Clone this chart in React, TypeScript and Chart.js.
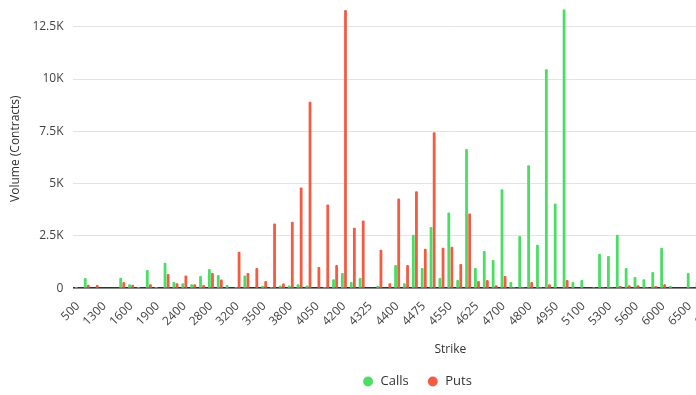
import React, { useEffect, useRef } from "react";
import { Chart, registerables } from "chart.js";

Chart.register(...registerables);

const strikes: string[] = [
  "500", "800", "1000", "1300", "1400", "1500", "1600", "1700", "1800", "1900",
  "2000", "2200", "2400", "2500", "2600", "2800", "2900", "3000", "3200", "3300",
  "3400", "3500", "3600", "3700", "3800", "3900", "4000", "4050", "4100", "4150",
  "4200", "4250", "4300", "4325", "4350", "4375", "4400", "4425", "4450", "4475",
  "4500", "4525", "4550", "4575", "4600", "4625", "4650", "4675", "4700", "4725",
  "4750", "4800", "4850", "4900", "4950", "5000", "5050", "5100", "5150", "5200",
  "5300", "5400", "5500", "5600", "5700", "5800", "6000", "6100", "6200", "6500",
  "6600", "6700", "6800", "7000", "7200", "7400", "7500", "7600", "7800", "8000",
  "8500", "9000", "9500", "10000", "11000",
];

const calls: number[] = [
  50, 480, 0, 0, 0, 500, 190, 50, 870, 50,
  1210, 290, 240, 190, 580, 920, 630, 150, 50, 600,
  0, 110, 50, 130, 130, 190, 130, 0, 50, 430,
  720, 290, 480, 0, 100, 0, 1110, 240, 2560, 960,
  2930, 480, 3620, 390, 6660, 960, 1780, 1350, 4730, 290,
  2490, 5880, 2070, 10470, 4050, 13340, 290, 390, 0, 1640,
  1540, 2560, 960, 530, 430, 770, 1930, 100, 0, 720,
  300, 150, 80, 200, 60, 40, 120, 30, 20, 90,
  50, 30, 20, 40, 10,
];

const puts: number[] = [
  0, 160, 150, 0, 0, 290, 160, 0, 190, 0,
  680, 240, 600, 190, 150, 730, 420, 0, 1740, 730,
  970, 340, 3090, 220, 3170, 4810, 8920, 1010, 4000, 1110,
  13300, 2890, 3230, 0, 1840, 240, 4290, 1110, 4630, 1880,
  7460, 1930, 1980, 1160, 3570, 340, 390, 140, 580, 50,
  50, 290, 50, 190, 0, 390, 0, 0, 50, 40,
  40, 100, 140, 140, 40, 100, 190, 0, 0, 30,
  20, 0, 10, 0, 0, 10, 0, 0, 0, 0,
  0, 0, 0, 0, 0,
];

const yTickValues: number[] = [0, 2500, 5000, 7500, 10000, 12500];
const yTickLabels: string[] = ["0", "2.5K", "5K", "7.5K", "10K", "12.5K"];
const yMax = 13340;

const GREEN = "#4ade63";
const RED = "#f55a42";
const FONT = "'Open Sans', sans-serif";

export default function App() {
  const ref = useRef<HTMLCanvasElement | null>(null);

  useEffect(() => {
    document.body.style.margin = "0";
    const ctx = ref.current;
    if (!ctx) return;
    const chart = new Chart(ctx, {
      type: "bar",
      data: {
        labels: strikes,
        datasets: [
          {
            label: "Calls",
            data: calls,
            backgroundColor: GREEN,
            borderColor: GREEN,
            categoryPercentage: 0.7,
            barPercentage: 0.9,
            borderRadius: 1,
          },
          {
            label: "Puts",
            data: puts,
            backgroundColor: RED,
            borderColor: RED,
            categoryPercentage: 0.7,
            barPercentage: 0.9,
            borderRadius: 1,
          },
        ],
      },
      options: {
        responsive: false,
        devicePixelRatio: 1,
        animation: false,
        layout: { padding: { left: 4, top: 0, right: 6, bottom: -3 } },
        plugins: {
          tooltip: { enabled: false },
          legend: {
            position: "bottom",
            labels: {
              usePointStyle: true,
              pointStyle: "circle",
              boxWidth: 12,
              boxHeight: 7,
              padding: 18,
              color: "#333",
              font: { family: FONT, size: 13 },
            },
          },
        },
        scales: {
          x: {
            grid: { display: false },
            border: { display: true, color: "#333", width: 1.5 },
            ticks: {
              autoSkip: false,
              maxRotation: 45,
              minRotation: 45,
              color: "#444",
              font: { family: FONT, size: 12 },
              callback: (_v: any, i: number) => (i % 3 === 0 ? strikes[i] : ""),
            },
            title: {
              display: true,
              text: "Strike",
              color: "#333",
              font: { family: FONT, size: 12 },
              padding: { top: 6, bottom: 0 },
            },
          },
          y: {
            min: 0,
            max: yMax,
            grid: { color: "#e3e3e3", drawTicks: false },
            border: { display: false },
            afterBuildTicks: (scale: any) => {
              scale.ticks = yTickValues.map((v) => ({ value: v }));
            },
            ticks: {
              padding: 10,
              color: "#444",
              font: { family: FONT, size: 12 },
              callback: (v: any) => {
                const i = yTickValues.indexOf(Number(v));
                return i >= 0 ? yTickLabels[i] : "";
              },
            },
            title: {
              display: true,
              text: "Volume (Contracts)",
              color: "#333",
              font: { family: FONT, size: 12 },
              padding: { top: 4, bottom: 0 },
            },
          },
        },
      },
    });
    return () => chart.destroy();
  }, []);

  return (
    <div style={{ width: 696, height: 395, overflow: "hidden" }}>
      <canvas
        ref={ref}
        width={836}
        height={403}
        style={{ display: "block", marginTop: -8 }}
      />
    </div>
  );
}
